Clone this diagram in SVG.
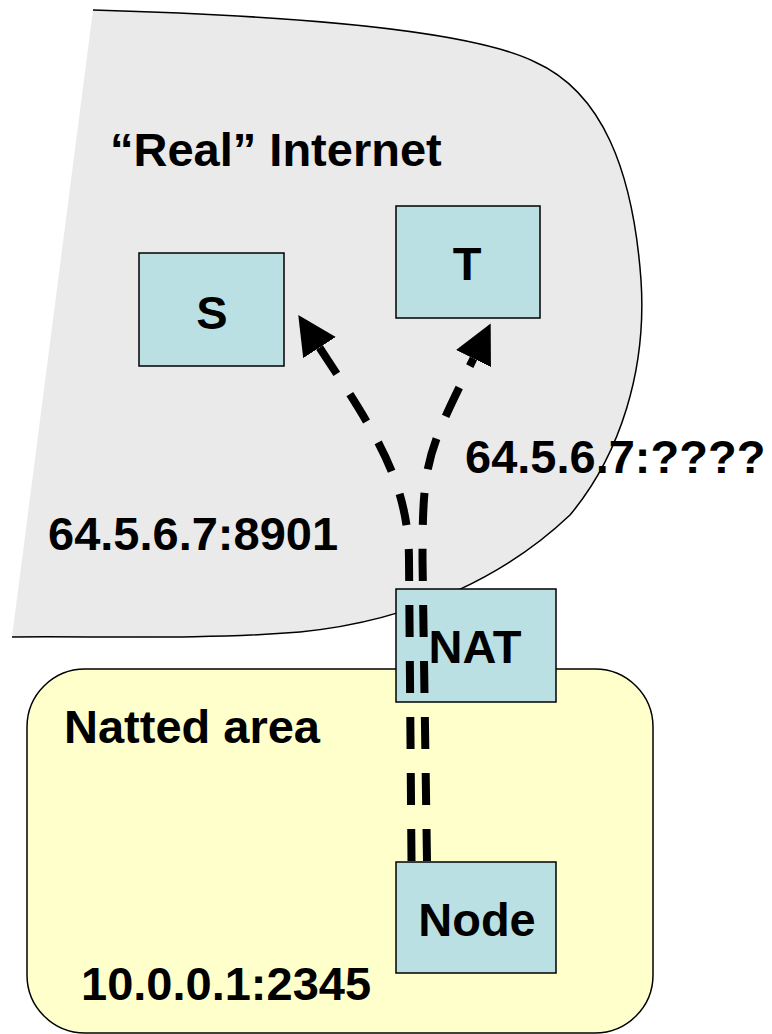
<svg xmlns="http://www.w3.org/2000/svg" width="772" height="1034" viewBox="0 0 772 1034">
  <style>
    .lbl { font-family: "Liberation Sans", Arial, sans-serif; font-weight: bold; font-size: 47px; fill: #000; }
    .mid { text-anchor: middle; }
    .box { fill: #BBE0E3; stroke: #000; stroke-width: 1.5; }
    .conn { fill: none; stroke: #000; stroke-width: 8; stroke-dasharray: 32 24; }
  </style>
  <defs>
    <marker id="arrow" markerUnits="userSpaceOnUse" markerWidth="40" markerHeight="40" viewBox="0 -18 36 36" refX="0" refY="0" orient="auto">
      <path d="M0,-17.5 L35,0 L0,17.5 Z" fill="#000"/>
    </marker>
  </defs>

  <g id="internet">
    <path d="M93,10 C300,16 470,30 535,62 C602,92 633,170 641,280 C647,370 620,455 570,515 C510,572 420,620 300,632 C200,640 100,636 12,637 Z" fill="#EAEAEA" stroke="none"/>
    <path d="M93,10 C300,16 470,30 535,62 C602,92 633,170 641,280 C647,370 620,455 570,515 C510,572 420,620 300,632 C200,640 100,636 12,637" fill="none" stroke="#000" stroke-width="1.5"/>
    <text class="lbl" x="110" y="166">“Real” Internet</text>
    <text class="lbl" x="465" y="473">64.5.6.7:????</text>
    <text class="lbl" x="48" y="550">64.5.6.7:8901</text>
  </g>

  <g id="natted-area">
    <rect x="27" y="669" width="626" height="364" rx="58" ry="58" fill="#FFFFCC" stroke="#000" stroke-width="1.5"/>
    <text class="lbl" x="64" y="743">Natted area</text>
    <text class="lbl" x="81" y="1000">10.0.0.1:2345</text>
  </g>

  <g id="node-S">
    <rect class="box" x="139" y="253" width="145" height="113"/>
    <text class="lbl mid" x="212" y="329">S</text>
  </g>

  <g id="node-T">
    <rect class="box" x="396" y="206" width="144" height="112"/>
    <text class="lbl mid" x="467" y="280">T</text>
  </g>

  <g id="node-NAT">
    <rect class="box" x="396" y="589" width="160" height="113"/>
    <text class="lbl mid" x="475" y="663">NAT</text>
  </g>

  <g id="node-Node">
    <rect class="box" x="396" y="862" width="160" height="111"/>
    <text class="lbl mid" x="477" y="936">Node</text>
  </g>

  <g id="connectors">
    <path class="conn" d="M411.5,861 L409,560 C409,480 372,428 319.5,347.5" marker-end="url(#arrow)"/>
    <path class="conn" d="M427,861 L422.5,560 C422.5,460 427,453 473.5,358.5" marker-end="url(#arrow)"/>
  </g>
</svg>
